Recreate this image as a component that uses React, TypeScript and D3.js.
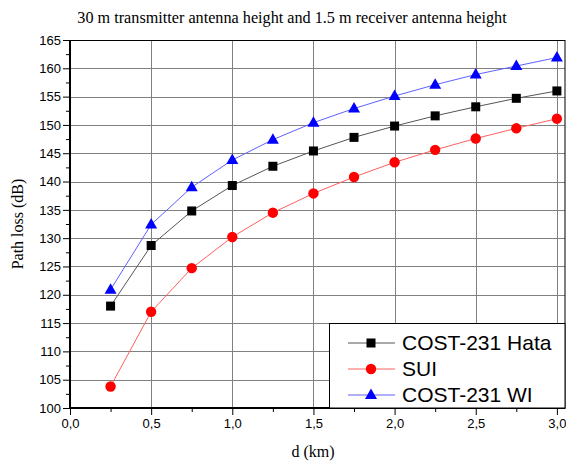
import React, { useEffect, useRef } from "react";
import * as d3 from "d3";

const distances = [0.25, 0.5, 0.75, 1.0, 1.25, 1.5, 1.75, 2.0, 2.25, 2.5, 2.75, 3.0];
const hataLoss = [118.0, 128.7, 134.8, 139.3, 142.7, 145.4, 147.8, 149.8, 151.6, 153.2, 154.7, 156.0];
const suiLoss = [103.8, 117.0, 124.7, 130.2, 134.5, 137.9, 140.8, 143.4, 145.6, 147.6, 149.4, 151.1];
const wiLoss = [120.9, 132.4, 139.0, 143.8, 147.4, 150.4, 152.9, 155.1, 157.1, 158.9, 160.4, 161.9];

const seriesNames = ["COST-231 Hata", "SUI", "COST-231 WI"];
const xTicks = [0, 0.5, 1.0, 1.5, 2.0, 2.5, 3.0];
const yTicks = [100, 105, 110, 115, 120, 125, 130, 135, 140, 145, 150, 155, 160, 165];

function PathLossChart({ width = 566, height = 463 }) {
  const svgRef = useRef(null);

  useEffect(() => {
    const svg = d3.select(svgRef.current);
    svg.selectAll("*").remove();

    const left = 70, right = 565, top = 40, bottom = 408;

    const x = d3.scaleLinear().domain([0, 3.05]).range([left, right]);
    const y = d3.scaleLinear().domain([100, 165]).range([bottom, top]);

    const series = [
      { name: seriesNames[0], values: hataLoss, color: "#000", line: "#555", shape: "square" },
      { name: seriesNames[1], values: suiLoss, color: "#ff0000", line: "#ff6060", shape: "circle" },
      { name: seriesNames[2], values: wiLoss, color: "#0000ff", line: "#6060ff", shape: "triangle" },
    ];

    // title
    svg.append("text")
      .attr("x", 292).attr("y", 23)
      .attr("text-anchor", "middle")
      .attr("font-family", "Liberation Serif, Times New Roman, serif")
      .attr("font-size", 16.2)
      .text("30 m transmitter antenna height and 1.5 m receiver antenna height");

    // grid
    const grid = svg.append("g").attr("stroke", "#808080").attr("stroke-width", 1);
    xTicks.slice(1).forEach((t) => {
      grid.append("line")
        .attr("x1", Math.round(x(t)) + 0.5).attr("x2", Math.round(x(t)) + 0.5)
        .attr("y1", top).attr("y2", bottom);
    });
    yTicks.slice(1).forEach((t) => {
      grid.append("line")
        .attr("x1", left).attr("x2", right)
        .attr("y1", Math.round(y(t)) + 0.5).attr("y2", Math.round(y(t)) + 0.5);
    });

    // frame
    svg.append("rect")
      .attr("x", left).attr("y", top + 0.5)
      .attr("width", right - left).attr("height", bottom - top)
      .attr("fill", "none").attr("stroke", "#000").attr("stroke-width", 1);

    // axes
    const axisFont = "Liberation Sans, Arial, sans-serif";
    const yAxis = svg.append("g").attr("transform", `translate(${left},0)`)
      .call(d3.axisLeft(y).tickValues(yTicks).tickSize(7).tickFormat(d3.format("d")));
    yAxis.select(".domain").remove();
    yAxis.selectAll("text").attr("font-size", 13).attr("font-family", axisFont).attr("fill", "#000").attr("x", -9);
    svg.append("g").attr("transform", `translate(${left},0)`)
      .call(d3.axisLeft(y).tickValues(d3.range(102.5, 165, 5)).tickSize(4).tickFormat(() => ""))
      .select(".domain").remove();

    const xAxis = svg.append("g").attr("transform", `translate(0,${bottom})`)
      .call(d3.axisBottom(x).tickValues(xTicks).tickSize(7).tickFormat((d) => d3.format(".1f")(d).replace(".", ",")));
    xAxis.select(".domain").remove();
    xAxis.selectAll("text").attr("font-size", 13).attr("font-family", axisFont).attr("fill", "#000").attr("y", 11);
    svg.append("g").attr("transform", `translate(0,${bottom})`)
      .call(d3.axisBottom(x).tickValues(d3.range(0.25, 3, 0.5)).tickSize(4).tickFormat(() => ""))
      .select(".domain").remove();

    svg.append("line").attr("x1", left).attr("x2", left).attr("y1", top).attr("y2", bottom + 1)
      .attr("stroke", "#000").attr("stroke-width", 2);
    svg.append("line").attr("x1", left - 1).attr("x2", right).attr("y1", bottom).attr("y2", bottom)
      .attr("stroke", "#000").attr("stroke-width", 2);

    // axis titles
    svg.append("text")
      .attr("x", 313).attr("y", 457)
      .attr("text-anchor", "middle")
      .attr("font-family", "Liberation Serif, Times New Roman, serif")
      .attr("font-size", 16)
      .text("d (km)");
    svg.append("text")
      .attr("transform", "translate(23,224) rotate(-90)")
      .attr("text-anchor", "middle")
      .attr("font-family", "Liberation Serif, Times New Roman, serif")
      .attr("font-size", 16)
      .text("Path loss (dB)");

    const drawMarker = (g, shape, color, cx, cy) => {
      if (shape === "square") {
        g.append("rect").attr("x", cx - 4.5).attr("y", cy - 4.5).attr("width", 9).attr("height", 9).attr("fill", color);
      } else if (shape === "circle") {
        g.append("circle").attr("cx", cx).attr("cy", cy).attr("r", 5.2).attr("fill", color);
      } else {
        g.append("path")
          .attr("d", `M${cx},${cy - 6.5}L${cx + 6},${cy + 4}L${cx - 6},${cy + 4}Z`)
          .attr("fill", color);
      }
    };

    const line = d3.line()
      .x((d, i) => x(distances[i]))
      .y((d) => y(d))
      .curve(d3.curveLinear);

    series.forEach((s) => {
      svg.append("path")
        .datum(s.values)
        .attr("fill", "none")
        .attr("stroke", s.line)
        .attr("stroke-width", 1)
        .attr("d", line);
      const g = svg.append("g");
      s.values.forEach((v, i) => drawMarker(g, s.shape, s.color, x(distances[i]), y(v)));
    });

    // legend
    const legend = svg.append("g");
    legend.append("rect")
      .attr("x", 329.5).attr("y", 323.5)
      .attr("width", right - 329.5).attr("height", bottom - 323.5)
      .attr("fill", "#fff").attr("stroke", "#000").attr("stroke-width", 1);
    series.forEach((s, i) => {
      const ly = 343 + i * 26;
      legend.append("line")
        .attr("x1", 348).attr("x2", 395).attr("y1", ly).attr("y2", ly)
        .attr("stroke", s.line).attr("stroke-width", 1);
      drawMarker(legend, s.shape, s.color, 371, ly);
      legend.append("text")
        .attr("x", 402).attr("y", ly + 7)
        .attr("font-family", axisFont)
        .attr("font-size", 21)
        .text(s.name);
    });
  }, [width, height]);

  return (
    <svg
      ref={svgRef}
      width={width}
      height={height}
      style={{ position: "absolute", left: 0, top: 0, background: "#fff" }}
    ></svg>
  );
}

export default function App() {
  return <PathLossChart />;
}
